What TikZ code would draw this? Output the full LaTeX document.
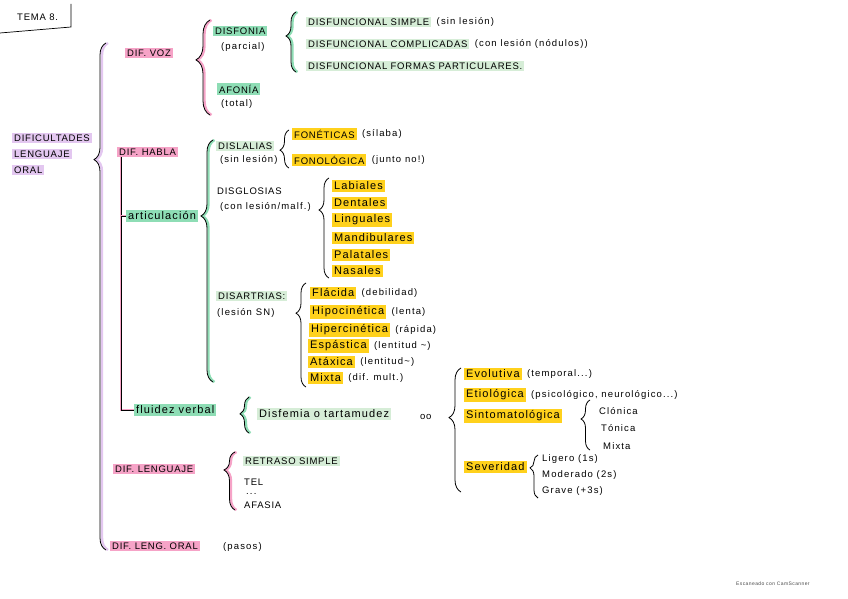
\documentclass[tikz,border=0pt]{standalone}
\usepackage{fontspec}
\setmainfont{Liberation Sans}[LetterSpace=8]
\usepackage{xcolor}
\usetikzlibrary{positioning, decorations.pathreplacing}

\definecolor{hlpink}{HTML}{F6A3C7}
\definecolor{hllav}{HTML}{E3C7F0}
\definecolor{hlgreen}{HTML}{8EDDB5}
\definecolor{hllgreen}{HTML}{D6EDD7}
\definecolor{hlyel}{HTML}{FFD11C}

\begin{document}
\begin{tikzpicture}[x=1pt, y=-1pt,
    every node/.style={inner sep=1pt, anchor=west, font=\fontsize{9.5}{11}\selectfont},
    hl/.style={fill=#1, inner xsep=2pt, inner ysep=1.5pt},
    low/.style={font=\fontsize{11}{12}\selectfont\addfontfeatures{LetterSpace=10}},
    note/.style={font=\fontsize{9.5}{11}\selectfont\addfontfeatures{LetterSpace=12}},
    brc/.style 2 args={decorate, decoration={brace, amplitude=#1, aspect=#2}, draw=black, line width=0.8pt},
    ink/.style={draw=#1, line width=2.4pt},
    pinkln/.style={draw=black, line width=0.8pt, preaction={draw=hlpink, line width=2.6pt}},
]
\useasboundingbox (0,0) rectangle (848,599);
\fill[white] (0,0) rectangle (848,599);

% title corner
\node (tema) at (16,17) {TEMA 8.};
\draw[line width=0.7pt] (71,4) -- (71,27) -- (0,33);

% root
\node[hl=hllav] (root1) at (12,138) {DIFICULTADES};
\node[hl=hllav] (root2) at (12,154) {LENGUAJE};
\node[hl=hllav] (root3) at (12,170) {ORAL};
\draw[brc={12}{0.77}, ink=hllav] (108,550) -- (108,43);
\draw[brc={12}{0.77}] (106,550) -- (106,43);

% dif. voz
\node[hl=hlpink] (voz) at (125,53) {DIF. VOZ};
\draw[brc={14}{0.58}, ink=hlpink] (211.5,115) -- (211.5,20);
\draw[brc={14}{0.58}] (210,115) -- (210,20);
\node[hl=hlgreen] (disfonia) at (213,31) {DISFONIA};
\node[note] (parcial) at (220,47) {(parcial)};
\node[hl=hlgreen] (afonia) at (217,89) {AFONÍA};
\node[note] (total) at (220,104) {(total)};
\draw[brc={10}{0.6}, ink=hlgreen] (297.5,72) -- (297.5,12);
\draw[brc={10}{0.6}] (296,72) -- (296,12);
\node[hl=hllgreen] (simple) at (306,22) {DISFUNCIONAL SIMPLE};
\node[note, right=4pt of simple] (simplenote) {(sin lesión)};
\node[hl=hllgreen] (compl) at (306,44) {DISFUNCIONAL COMPLICADAS};
\node[note, right=4pt of compl] (complnote) {(con lesión (nódulos))};
\node[hl=hllgreen] (formas) at (306,66) {DISFUNCIONAL FORMAS PARTICULARES.};

% dif. habla
\node[hl=hlpink] (habla) at (117,152) {DIF. HABLA};
\node[hl=hlgreen, low] (artic) at (126,216) {articulación};
\node[hl=hlgreen, low] (fluidez) at (134,410) {fluidez verbal};
\draw[pinkln] ([xshift=4pt]habla.south west) |- (fluidez.west);
\draw[pinkln] ([xshift=4pt]habla.south west |- artic.west) -- (artic.west);
\draw[brc={12}{0.686}, ink=hlgreen] (214.5,382) -- (214.5,140);
\draw[brc={12}{0.686}] (213,382) -- (213,140);

\node[hl=hllgreen] (dislalias) at (216,146) {DISLALIAS};
\node[note] (sinlesion) at (219,160) {(sin lesión)};
\draw[brc={9}{0.47}] (289,168) -- (289,130);
\node[hl=hlyel] (fonet) at (292,134) {FONÉTICAS};
\node[note, right=4pt of fonet] (fonetnote) {(sílaba)};
\node[hl=hlyel] (fonol) at (292,160) {FONOLÓGICA};
\node[note, right=4pt of fonol] (fonolnote) {(junto no!)};

\node (disglosias) at (216,191) {DISGLOSIAS};
\node[note] (malf) at (219,207) {(con lesión/malf.)};
\draw[brc={10}{0.68}] (329,278) -- (329,178);
\node[hl=hlyel, low] (labiales) at (332,186) {Labiales};
\node[hl=hlyel, low] (dentales) at (332,203) {Dentales};
\node[hl=hlyel, low] (linguales) at (332,220) {Linguales};
\node[hl=hlyel, low] (mandib) at (332,238) {Mandibulares};
\node[hl=hlyel, low] (palatales) at (332,255) {Palatales};
\node[hl=hlyel, low] (nasales) at (332,271) {Nasales};

\node[hl=hllgreen] (disartrias) at (216,296) {DISARTRIAS:};
\node[note] (lesionsn) at (216,313) {(lesión SN)};
\draw[brc={10}{0.71}] (306,387) -- (306,283);
\node[hl=hlyel, low] (flacida) at (310,293) {Flácida};
\node[note, right=4pt of flacida] (flacidanote) {(debilidad)};
\node[hl=hlyel, low] (hipo) at (310,312) {Hipocinética};
\node[note, right=4pt of hipo] (hiponote) {(lenta)};
\node[hl=hlyel, low] (hiper) at (309,330) {Hipercinética};
\node[note, right=4pt of hiper] (hipernote) {(rápida)};
\node[hl=hlyel, low] (espastica) at (308,346) {Espástica};
\node[note, right=4pt of espastica] (espasticanote) {(lentitud \textasciitilde)};
\node[hl=hlyel, low] (ataxica) at (308,362) {Atáxica};
\node[note, right=4pt of ataxica] (ataxicanote) {(lentitud\textasciitilde)};
\node[hl=hlyel, low] (mixta) at (308,378) {Mixta};
\node[note, right=4pt of mixta] (mixtanote) {(dif. mult.)};

% fluidez verbal
\draw[brc={9}{0.53}, ink=hlgreen] (250.5,433) -- (250.5,397);
\draw[brc={9}{0.53}] (249,433) -- (249,397);
\node[hl=hllgreen, low] (disfemia) at (257,414) {Disfemia o tartamudez};
\node (oo) at (419,417) {oo};
\draw[brc={12}{0.6}] (461,492) -- (461,368);
\node[hl=hlyel, low] (evolutiva) at (464,374) {Evolutiva};
\node[note, right=4pt of evolutiva] (evolnote) {(temporal...)};
\node[hl=hlyel, low] (etiol) at (464,395) {Etiológica};
\node[note, right=4pt of etiol] (etiolnote) {(psicológico, neurológico...)};
\node[hl=hlyel, low] (sintom) at (464,416) {Sintomatológica};
\draw[brc={9}{0.62}] (590,450) -- (590,400);
\node[note] (clonica) at (598,411) {Clónica};
\node[note] (tonica) at (600,428) {Tónica};
\node[note] (mixta2) at (602,446) {Mixta};
\node[hl=hlyel, low] (severidad) at (464,467) {Severidad};
\draw[brc={8}{0.7}] (538,498) -- (538,455);
\node[note] (ligero) at (541,459) {Ligero (1s)};
\node[note] (moderado) at (541,475) {Moderado (2s)};
\node[note] (grave) at (541,491) {Grave (+3s)};

% dif. lenguaje
\node[hl=hlpink] (lenguaje) at (113,469) {DIF. LENGUAJE};
\draw[brc={11}{0.69}, ink=hlpink] (236.5,510) -- (236.5,452);
\draw[brc={11}{0.69}] (235,510) -- (235,452);
\node[hl=hllgreen] (retraso) at (243,461) {RETRASO SIMPLE};
\node (tel) at (243,482) {TEL};
\node[note] (dots) at (245,494) {...};
\node (afasia) at (243,505) {AFASIA};

% dif. leng. oral
\node[hl=hlpink] (oral) at (110,546) {DIF. LENG. ORAL};
\node[note] (pasos) at (222,547) {(pasos)};

\node[font=\fontsize{5}{6}\selectfont, text=black!70] (scan) at (735,584) {Escaneado con CamScanner};

\end{tikzpicture}
\end{document}
